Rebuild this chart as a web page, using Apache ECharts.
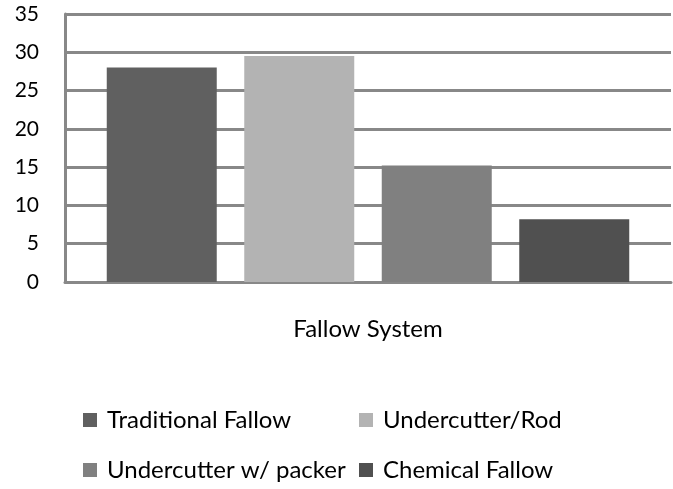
<!DOCTYPE html>
<html>
<head>
<meta charset="utf-8">
<script src="https://cdn.jsdelivr.net/npm/echarts@6/dist/echarts.min.js"></script>
<style>html,body{margin:0;padding:0;background:#fff;}#c{width:673px;height:489px;}</style>
</head>
<body>
<div id="c"></div>
<script>
const categories = ['Fallow System'];
const seriesNames = ['Traditional Fallow', 'Undercutter/Rod', 'Undercutter w/ packer', 'Chemical Fallow'];
const seriesValues = [[28], [29.5], [15.2], [8.2]];
const seriesColors = ['#606060', '#b3b3b3', '#808080', '#505050'];
const yTicks = { min: 0, max: 35, interval: 5 };

const FONT = 'Lato';
const chart = echarts.init(document.getElementById('c'), null, { renderer: 'canvas' });
const legendPos = [
  { left: 83, top: 408 },
  { left: 359, top: 408 },
  { left: 83, top: 458 },
  { left: 359, top: 458 }
];
const option = {
  animation: false,
  backgroundColor: '#fff',
  grid: { left: 65, right: 2, top: 14, bottom: 207, containLabel: false },
  legend: seriesNames.map((n, i) => ({
    data: [n],
    left: legendPos[i].left,
    top: legendPos[i].top,
    padding: 0,
    itemWidth: 14,
    itemHeight: 14,
    itemGap: 10,
    icon: 'rect',
    textStyle: { fontFamily: FONT, fontSize: 24, color: '#000', padding: [0, 0, 0, 5] }
  })),
  xAxis: {
    type: 'category',
    data: categories,
    axisLine: { show: true, lineStyle: { color: '#888', width: 3 } },
    axisTick: { show: false },
    axisLabel: { margin: 35, fontFamily: FONT, fontSize: 24, color: '#000' }
  },
  yAxis: {
    type: 'value',
    min: yTicks.min,
    max: yTicks.max,
    interval: yTicks.interval,
    axisLine: { show: true, lineStyle: { color: '#888', width: 3 } },
    axisTick: { show: false },
    splitLine: { lineStyle: { color: '#888', width: 3 } },
    axisLabel: { margin: 26, fontFamily: FONT, fontSize: 21, color: '#000' }
  },
  series: seriesNames.map((n, i) => ({
    name: n,
    type: 'bar',
    data: seriesValues[i],
    itemStyle: { color: seriesColors[i] },
    barWidth: 110,
    barGap: '25%',
    barCategoryGap: '14%'
  }))
};
chart.setOption(option);
</script>
</body>
</html>
